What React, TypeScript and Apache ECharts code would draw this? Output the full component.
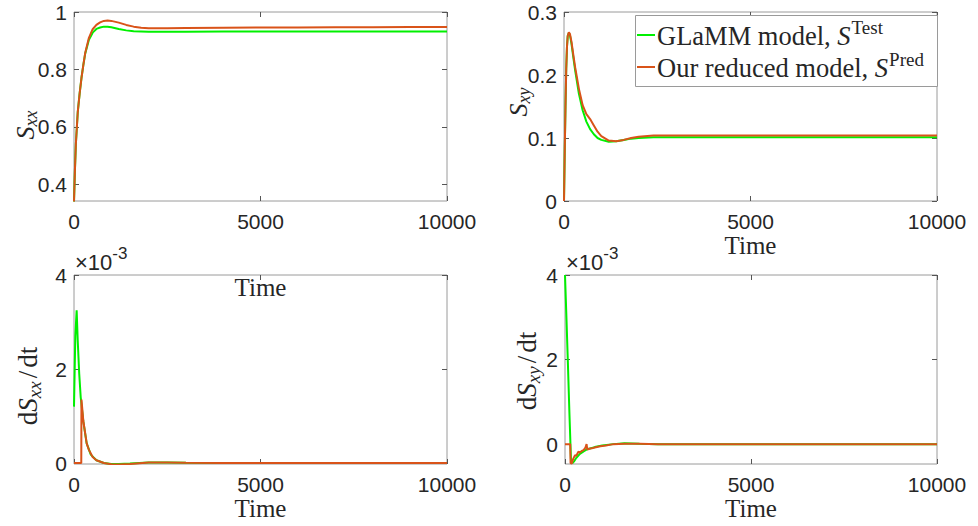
import React, { useEffect, useRef } from "react";
import * as echarts from "echarts";

// ---------- data ----------
const timeSxx = [0, 25, 50, 100, 150, 200, 250, 300, 400, 500, 600, 700, 800, 900, 1000, 1200, 1400, 1600, 1800, 2000, 2500, 3000, 4000, 5000, 6000, 7000, 8000, 9000, 10000];
const glammSxx = [0.34, 0.45, 0.54, 0.65, 0.715, 0.77, 0.815, 0.855, 0.903, 0.928, 0.941, 0.946, 0.949, 0.949, 0.947, 0.941, 0.936, 0.933, 0.932, 0.931, 0.931, 0.931, 0.932, 0.932, 0.932, 0.932, 0.932, 0.932, 0.932];
const predSxx = [0.34, 0.45, 0.54, 0.65, 0.715, 0.77, 0.815, 0.857, 0.91, 0.94, 0.955, 0.964, 0.969, 0.97, 0.969, 0.963, 0.955, 0.949, 0.945, 0.943, 0.943, 0.944, 0.945, 0.946, 0.946, 0.947, 0.947, 0.948, 0.948];

const timeSxy = [0, 20, 40, 60, 80, 100, 130, 160, 200, 250, 300, 400, 500, 600, 700, 800, 900, 1000, 1200, 1400, 1600, 1800, 2000, 2400, 3000, 4000, 5000, 6000, 7000, 8000, 9000, 10000];
const glammSxy = [0, 0.08, 0.15, 0.21, 0.245, 0.262, 0.267, 0.263, 0.25, 0.228, 0.207, 0.17, 0.144, 0.126, 0.114, 0.106, 0.1, 0.097, 0.094, 0.095, 0.097, 0.099, 0.1, 0.101, 0.101, 0.101, 0.101, 0.101, 0.101, 0.101, 0.101, 0.101];
const predSxy = [0, 0.08, 0.15, 0.21, 0.245, 0.262, 0.268, 0.265, 0.253, 0.232, 0.212, 0.178, 0.152, 0.138, 0.13, 0.12, 0.11, 0.103, 0.096, 0.095, 0.097, 0.1, 0.102, 0.104, 0.104, 0.104, 0.104, 0.104, 0.104, 0.104, 0.104, 0.104];

// rates, in units of 1e-3
const timeRateXxGlamm = [0, 35, 71, 100, 140, 180, 250, 340, 450, 600, 800, 1000, 1200, 1500, 2000, 2500, 3000, 4000, 5000, 6000, 7000, 8000, 9000, 10000];
const glammRateXx = [1.2, 2.7, 3.25, 2.6, 1.9, 1.4, 0.88, 0.42, 0.18, 0.06, 0.0, -0.02, -0.02, -0.01, 0.01, 0.01, 0.005, 0.003, 0.002, 0.002, 0.001, 0.001, 0.001, 0.001];
const timeRateXxPred = [0, 195, 200, 250, 340, 400, 500, 600, 800, 1000, 1200, 1500, 2000, 2500, 3000, 4000, 5000, 10000];
const predRateXx = [0, 0, 1.35, 0.9, 0.42, 0.28, 0.13, 0.06, 0.0, -0.025, -0.03, -0.02, 0.01, 0.01, 0.005, 0.003, 0.002, 0.001];

const timeRateXyGlamm = [0, 40, 80, 120, 160, 200, 250, 300, 400, 500, 600, 800, 1000, 1300, 1600, 2000, 2500, 3000, 4000, 5000, 10000];
const glammRateXy = [4.0, 2.95, 1.85, 0.7, -0.35, -0.45, -0.4, -0.33, -0.23, -0.17, -0.12, -0.07, -0.03, 0.0, 0.02, 0.01, 0.0, 0.0, 0.0, 0.0, 0.0];
const timeRateXyPred = [0, 140, 150, 180, 220, 270, 300, 360, 400, 450, 500, 550, 580, 600, 650, 720, 800, 950, 1100, 1300, 1600, 2000, 2500, 3000, 5000, 10000];
const predRateXy = [0, 0, -0.45, -0.46, -0.35, -0.26, -0.28, -0.18, -0.2, -0.16, -0.14, -0.08, 0.0, -0.13, -0.11, -0.1, -0.08, -0.05, -0.03, 0.0, 0.01, 0.01, 0.0, 0.0, 0.0, 0.0];

const timeTicks = [0, 5000, 10000];
const sxxTicks = [0.4, 0.6, 0.8, 1];
const sxyTicks = [0, 0.1, 0.2, 0.3];
const rateTicks = [0, 2, 4];

const legendNames = ["GLaMM model, ", "Our reduced model, "];
const legendSup = ["Test", "Pred"];

// ---------- styles ----------
const GREEN = "#00f000";
const ORANGE = "#d95319";
const TXT = "#262626";
const BOX = "#9a9a9a";
const SANS = "Liberation Sans";
const SERIF = "Liberation Serif";

const zip = (t: number[], v: number[]) => t.map((x, i) => [x, v[i]]);

let measureCtx: CanvasRenderingContext2D | null = null;
function tw(text: string, size: number, family: string, italic = false) {
  if (!measureCtx) measureCtx = document.createElement("canvas").getContext("2d");
  measureCtx!.font = `${italic ? "italic " : ""}${size}px "${family}"`;
  return measureCtx!.measureText(text).width;
}

type Piece = { text: string; size: number; italic?: boolean; dy?: number; family?: string; gap?: number };

function mathText(pieces: Piece[], x: number, y: number, rotation: number, center: boolean, z = 50) {
  const widths = pieces.map((p) => tw(p.text, p.size, p.family || SERIF, p.italic) + (p.gap || 0));
  const total = widths.reduce((a, b) => a + b, 0);
  let cursor = center ? -total / 2 : 0;
  const children = pieces.map((p, i) => {
    const el = {
      type: "text",
      x: cursor,
      y: p.dy || 0,
      silent: true,
      z,
      style: {
        text: p.text,
        fontSize: p.size,
        fontFamily: p.family || SERIF,
        fontStyle: p.italic ? "italic" : "normal",
        fill: TXT,
        align: "left",
        verticalAlign: "middle",
      },
    };
    cursor += widths[i];
    return el;
  });
  return { type: "group", x, y, rotation, silent: true, z, children };
}

const grids = [
  { left: 74, top: 12, width: 373, height: 189 },
  { left: 564, top: 12, width: 373, height: 189 },
  { left: 74, top: 275, width: 373, height: 189 },
  { left: 565, top: 275, width: 372, height: 189 },
];

const yRanges = [
  { min: 0.3415, max: 1, ticks: sxxTicks },
  { min: 0, max: 0.3, ticks: sxyTicks },
  { min: -0.02, max: 4, ticks: rateTicks },
  { min: -0.47, max: 4, ticks: rateTicks },
];

export default function App() {
  const ref = useRef<HTMLDivElement>(null);

  useEffect(() => {
    if (!ref.current) return;
    const chart = echarts.init(ref.current, null, { renderer: "svg" });

    const tick = { show: true, inside: true, length: 5, lineStyle: { color: "#555", width: 1 } };
    const fmt = (v: number) => String(v);

    const xAxes: any[] = [];
    const yAxes: any[] = [];
    grids.forEach((_, gi) => {
      xAxes.push({
        gridIndex: gi,
        type: "value",
        position: "bottom",
        min: timeTicks[0],
        max: timeTicks[timeTicks.length - 1],
        interval: timeTicks[1] - timeTicks[0],
        axisLine: { show: false, onZero: false },
        axisTick: tick,
        splitLine: { show: false },
        axisLabel: { color: TXT, fontSize: 21, fontFamily: SANS, margin: 10, formatter: fmt },
        name: "Time",
        nameLocation: "middle",
        nameGap: gi === 0 ? 74 : 32,
        nameTextStyle: { color: TXT, fontSize: 25, fontFamily: SERIF },
      });
    });
    grids.forEach((_, gi) => {
      xAxes.push({
        gridIndex: gi,
        type: "value",
        position: "top",
        min: timeTicks[0],
        max: timeTicks[timeTicks.length - 1],
        interval: timeTicks[1] - timeTicks[0],
        axisLine: { show: false, onZero: false },
        axisTick: tick,
        splitLine: { show: false },
        axisLabel: { show: false },
      });
    });
    grids.forEach((_, gi) => {
      const r = yRanges[gi];
      yAxes.push({
        gridIndex: gi,
        type: "value",
        position: "left",
        min: r.min,
        max: r.max,
        axisLine: { show: false, onZero: false },
        axisTick: { ...tick, customValues: r.ticks },
        splitLine: { show: false },
        axisLabel: { color: TXT, fontSize: 21, fontFamily: SANS, margin: 7, customValues: r.ticks, formatter: fmt },
      });
    });
    grids.forEach((_, gi) => {
      const r = yRanges[gi];
      yAxes.push({
        gridIndex: gi,
        type: "value",
        position: "right",
        min: r.min,
        max: r.max,
        axisLine: { show: false, onZero: false },
        axisTick: { ...tick, customValues: r.ticks },
        splitLine: { show: false },
        axisLabel: { show: false, customValues: r.ticks },
      });
    });

    const panelData = [
      [zip(timeSxx, glammSxx), zip(timeSxx, predSxx)],
      [zip(timeSxy, glammSxy), zip(timeSxy, predSxy)],
      [zip(timeRateXxGlamm, glammRateXx), zip(timeRateXxPred, predRateXx)],
      [zip(timeRateXyGlamm, glammRateXy), zip(timeRateXyPred, predRateXy)],
    ];
    const series: any[] = [];
    panelData.forEach((pair, gi) => {
      pair.forEach((data, si) => {
        series.push({
          type: "line",
          name: legendNames[si],
          xAxisIndex: gi,
          yAxisIndex: gi,
          data,
          showSymbol: false,
          symbol: "none",
          lineStyle: { color: si === 0 ? GREEN : ORANGE, width: 2 },
          itemStyle: { color: si === 0 ? GREEN : ORANGE },
          z: 2 + si,
          clip: true,
        });
      });
    });

    const graphics: any[] = [
      // y-axis labels
      mathText([{ text: "S", size: 26, italic: true }, { text: "xx", size: 18, italic: true, dy: 6 }], 25, 125, Math.PI / 2, true),
      mathText([{ text: "S", size: 26, italic: true }, { text: "xy", size: 18, italic: true, dy: 6 }], 518, 102, Math.PI / 2, true),
      mathText(
        [
          { text: "d", size: 27 },
          { text: "S", size: 27, italic: true },
          { text: "xx", size: 19, italic: true, dy: 6, gap: 3 },
          { text: "/", size: 27, gap: 3 },
          { text: "dt", size: 27 },
        ],
        28,
        386,
        Math.PI / 2,
        true
      ),
      mathText(
        [
          { text: "d", size: 27 },
          { text: "S", size: 27, italic: true },
          { text: "xy", size: 19, italic: true, dy: 6, gap: 3 },
          { text: "/", size: 27, gap: 3 },
          { text: "dt", size: 27 },
        ],
        527,
        371,
        Math.PI / 2,
        true
      ),
      // exponent markers
      mathText([{ text: "×10", size: 22, family: SANS }, { text: "-3", size: 17, family: SANS, dy: -9 }], 75, 262, 0, false),
      mathText([{ text: "×10", size: 22, family: SANS }, { text: "-3", size: 17, family: SANS, dy: -9 }], 566, 262, 0, false),
      // legend box
      {
        type: "rect",
        shape: { x: 635.5, y: 15.5, width: 302, height: 71 },
        style: { fill: "#ffffff", stroke: BOX, lineWidth: 1 },
        z: 100,
        silent: true,
      },
      {
        type: "line",
        shape: { x1: 637, y1: 35, x2: 655, y2: 35 },
        style: { stroke: GREEN, lineWidth: 2 },
        z: 101,
        silent: true,
      },
      {
        type: "line",
        shape: { x1: 637, y1: 67, x2: 655, y2: 67 },
        style: { stroke: ORANGE, lineWidth: 2 },
        z: 101,
        silent: true,
      },
      mathText(
        [
          { text: legendNames[0], size: 26.5 },
          { text: "S", size: 26.5, italic: true, gap: 1 },
          { text: legendSup[0], size: 19, dy: -9 },
        ],
        657,
        36,
        0,
        false,
        102
      ),
      mathText(
        [
          { text: legendNames[1], size: 26.5 },
          { text: "S", size: 26.5, italic: true, gap: 1 },
          { text: legendSup[1], size: 19, dy: -9 },
        ],
        657,
        68,
        0,
        false,
        102
      ),
    ];

    chart.setOption({
      animation: false,
      backgroundColor: "#ffffff",
      grid: grids.map((g) => ({ ...g, show: true, borderColor: BOX, borderWidth: 1, backgroundColor: "transparent", containLabel: false })),
      xAxis: xAxes,
      yAxis: yAxes,
      series,
      graphic: graphics,
    });

    return () => chart.dispose();
  }, []);

  return <div ref={ref} style={{ position: "absolute", left: 0, top: 0, width: 978, height: 526 }} />;
}
